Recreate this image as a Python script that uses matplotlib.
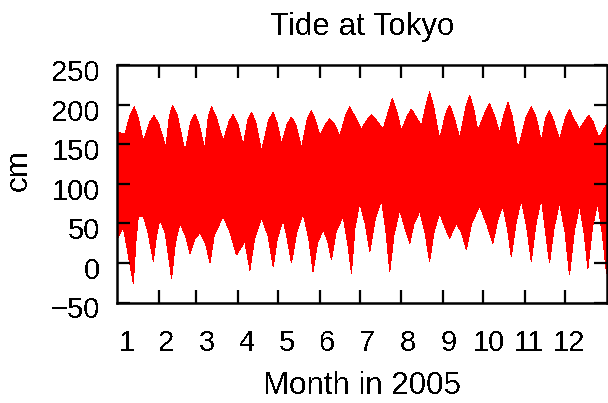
import numpy as np
import matplotlib
matplotlib.use("Agg")
import matplotlib.pyplot as plt
import matplotlib.transforms as mtransforms

# Envelope of the hourly tide record at Tokyo, 2005 (day of year, cm)
high_day = [0, 6, 9.5, 12.7, 15.5, 19.6, 24.5, 27.6, 31, 36.5, 39, 41.5, 45,
            50.7, 55, 58.1, 61, 65.5, 68, 70.5, 74, 79.2, 83.5, 86.5, 90,
            94.1, 97.5, 100.3, 103.5, 107.8, 113, 116.5, 119.5, 122.7, 127,
            130.1, 133.5, 137.6, 142, 145, 148, 151.2, 156, 158.7, 162, 166.1,
            170.5, 173.6, 177, 182.2, 187, 189.7, 193, 198.4, 202.5, 205.3,
            208.5, 212, 216.5, 219.5, 222.5, 227, 230.5, 233.1, 236, 240.6,
            245, 248, 251, 255.5, 260, 263, 266, 269.1, 274.5, 277.8, 281,
            285.3, 289, 291.5, 294.5, 299, 305, 308.9, 312.5, 316.4, 319.5,
            322.5, 325.5, 330, 334.5, 337.4, 340.5, 344.9, 349, 351.8, 355,
            359.3, 365]
high_cm = [165, 163, 185, 197, 185, 154, 178, 186, 176, 146, 185, 199, 186,
           141, 178, 188, 176, 144, 184, 197, 184, 154, 178, 188, 176,
           148, 180, 190, 178, 141, 180, 190, 176, 150, 176,
           184, 174, 146, 182, 192, 180, 161, 176, 182, 176, 160,
           186, 197, 186, 169, 182, 187, 181, 169, 192, 208,
           192, 167, 186, 194, 186, 173, 200, 216, 198, 156,
           188, 199, 186, 158, 196, 212, 194, 167, 190, 201, 188,
           165, 190, 203, 186, 144, 184, 197, 184, 154, 182,
           192, 180, 156, 184, 194, 182, 169, 180, 186, 178,
           158, 175]

low_day = [0, 4.7, 8.4, 12.2, 14, 15.9, 19.6, 23, 27.1, 29.5, 32, 36, 40.7,
           43.5, 46.9, 51, 54.4, 58, 61.8, 66, 69.3, 72.5, 79.2, 84, 89.1,
           95.3, 99.1, 102.5, 107.8, 112.5, 116.5, 119.5, 123.9, 127, 130.1,
           134, 138.8, 143, 146.2, 149.5, 153.7, 157, 159.9, 163.5, 168.6,
           172, 174.8, 177.5, 181, 185, 188.5, 192.5, 197.2, 200.5, 203.4,
           206.5, 210.8, 214.5, 218.3, 221.5, 225.7, 229.5, 233.1, 236.5,
           240.6, 244.5, 248, 253, 257, 260.5, 264.5, 270.4, 275.5, 280.3,
           284, 287.7, 291, 294, 297.5, 301.4, 305.5, 308.9, 312.5, 316.4,
           319.5, 322.5, 326, 330, 334, 337.4, 341, 344.9, 348.5, 351.1,
           354.5, 358.5, 362, 365]
low_cm = [30, 45, 10, -26, 25, 59, 59, 40, 2, 35, 55, 38, -19.5,
          25, 50, 35, 12, 30, 38, 25, 0, 35, 59, 40, 10,
          27, -9, 30, 57, 35, -5, 30, 55, 30, 0,
          38, 63, 30, -11, 25, 42, 28, 4, 40, 59,
          25, -13, 45, 76, 50, 14, 55, 80, 40, -11,
          35, 67, 45, 25, 50, 65, 40, 2, 40,
          63, 45, 31, 50, 38, 16.5, 50, 72, 50, 25,
          55, 72, 45, 8, 50, 80, 45, 2, 50, 82,
          40, 0, 45, 76, 40, -15, 40, 72, 35, -7,
          45, 76, 35, -13]

month_labels = ["1", "2", "3", "4", "5", "6", "7", "8", "9", "10", "11", "12"]
month_start = [0, 31, 59, 90, 120, 151, 181, 212, 243, 273, 304, 334, 365]
y_ticks = [-50, 0, 50, 100, 150, 200, 250]

plt.rcParams["font.family"] = ["Liberation Sans", "DejaVu Sans"]
plt.rcParams["text.antialiased"] = False

W, H = 608, 403
fig = plt.figure(figsize=(W / 100, H / 100), dpi=100)
ax = fig.add_axes([117 / W, 1 - 302.5 / H, (606.5 - 117) / W, (302.5 - 65) / H])

xs = np.r_[high_day, low_day[::-1]]
ys = np.r_[high_cm, low_cm[::-1]]
ax.fill(xs, ys, color="#ff0000", linewidth=0, antialiased=False)

ax.set_xlim(0, 365)
ax.set_ylim(-50, 250)

# month boundaries carry the tick marks, the month numbers sit a week in
ax.set_xticks(month_start[1:-1])
ax.set_xticklabels([])
label_pos = [7 + 30 * k for k in range(len(month_labels))]
ax.set_xticks(label_pos, minor=True)
ax.set_xticklabels(month_labels, minor=True, fontsize=21)
ax.tick_params(axis="x", which="minor", length=0, pad=19, bottom=True, top=False)

ax.set_yticks(y_ticks)
ax.set_yticklabels([str(v).replace("-", "\u2212") for v in y_ticks], fontsize=21)
ax.tick_params(axis="both", which="major", direction="in", length=9.4, width=1.6,
               top=True, right=True)
ax.tick_params(axis="y", pad=12)

off = mtransforms.ScaledTranslation(0, -5 / 100, fig.dpi_scale_trans)
for lab in ax.get_yticklabels():
    lab.set_transform(lab.get_transform() + off)

for sp in ax.spines.values():
    sp.set_linewidth(1.8)

fig.text(362 / W, 1 - 35 / H, "Tide at Tokyo", ha="center", va="baseline", fontsize=22.5)
fig.text(362 / W, 1 - 394 / H, "Month in 2005", ha="center", va="baseline", fontsize=22.5)
fig.text(19 / W, 1 - 170 / H, "cm", ha="center", va="center", rotation=90, fontsize=22.5)

fig.savefig("out.png", dpi=100)
